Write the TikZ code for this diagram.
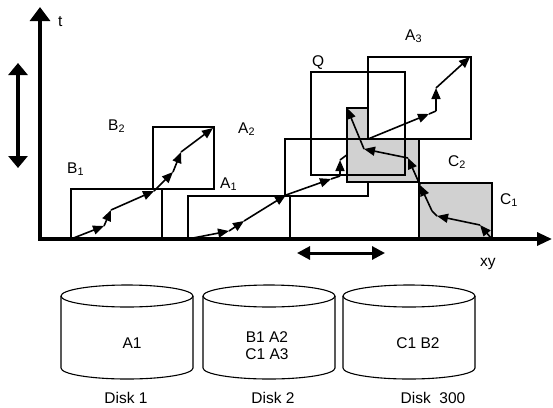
\documentclass[tikz,border=0pt]{standalone}
\usepackage{fontspec}
\setmainfont{Liberation Sans}
\usetikzlibrary{arrows.meta}
\begin{document}
\begin{tikzpicture}[x=1pt,y=-1pt,
    font=\fontsize{15.5}{17}\selectfont,
    mbr/.style={draw,line width=1.5pt},
    shaded/.style={mbr,fill=black!18},
    query/.style={draw,line width=2.8pt},
    traj/.style={line width=1.6pt,-{Triangle[length=11pt,width=9pt]}},
    plain/.style={line width=1.6pt},
    axis/.style={line width=3.2pt},
    lbl/.style={anchor=base west,inner sep=0},
    txt/.style={anchor=base,inner sep=0}]
\useasboundingbox (0,0) rectangle (553,407);
% trajectory points
\coordinate (b0) at (71,239);  \coordinate (b1) at (104,226);
\coordinate (b2) at (111,210); \coordinate (b3) at (154,191);
\coordinate (b4) at (173,172); \coordinate (b5) at (181,152);
\coordinate (b6) at (213,128);
\coordinate (a0) at (188,239); \coordinate (a1) at (229,231);
\coordinate (a2) at (244,221); \coordinate (a3) at (286,195);
\coordinate (a4) at (331,179); \coordinate (a5) at (340,176);
\coordinate (a6) at (340,160); \coordinate (a7) at (368,139);
\coordinate (e1) at (429,114); \coordinate (e2) at (436,111);
\coordinate (e3) at (436,88);  \coordinate (e4) at (470,57);
\coordinate (k0) at (491,238); \coordinate (k1) at (480,225);
\coordinate (k2) at (437,216); \coordinate (k3) at (432,211);
\coordinate (k4) at (420,185); \coordinate (k5) at (408,158);
\coordinate (k6) at (364,149); \coordinate (k7) at (347,108);
% boxes B1, B2, A1
\draw[mbr] (71,189) rectangle (162,239);
\draw[mbr] (153,127) rectangle (214,189);
\draw[mbr] (188,196) rectangle (290,239);
% trajectories B and A
\foreach \p/\q in {b0/b1,b1/b2,b2/b3,b3/b4,b4/b5,b5/b6}
  \draw[traj] (\p) -- (\q);
\foreach \p/\q in {a0/a1,a1/a2,a2/a3,a3/a4,a5/a6,a6/a7}
  \draw[traj] (\p) -- (\q);
\draw[plain] (a4) -- (a5);
% boxes C1, C2, A2, A3
\draw[shaded] (419,183) rectangle (492,239);
\draw[shaded] (347,108) rectangle (419,182);
\draw[mbr] (368,182) -- (368,196) -- (285,196) -- (285,139) -- (368,139);
\draw[mbr,fill=white] (368,57) rectangle (471,139);
% trajectories A3 and C
\foreach \p/\q in {a7/e1,e2/e3,e3/e4}
  \draw[traj] (\p) -- (\q);
\draw[plain] (e1) -- (e2);
\foreach \p/\q in {k0/k1,k1/k2,k3/k4,k4/k5,k5/k6,k6/k7}
  \draw[traj] (\p) -- (\q);
\draw[plain] (k2) -- (k3);
% query Q
\draw[query] (311,72) rectangle (405,175);
% axes
\coordinate (o) at (40,239);
\draw[axis,-{Triangle[length=14pt,width=20pt]}] (40,240.5) -- (40,7);
\draw[axis,-{Triangle[length=15pt,width=13pt]}] (38.5,239) -- (552,239);
\draw[line width=3.5pt,{Triangle[length=12pt,width=19pt]}-{Triangle[length=12pt,width=19pt]}] (18,63) -- (18,168);
\draw[line width=3pt,{Triangle[length=13pt,width=13pt]}-{Triangle[length=13pt,width=13pt]}] (297,253) -- (385,253);
% labels
\node[lbl] (t) at (58,26) {t};
\node[lbl] (xy) at (480,266) {xy};
\node[lbl] (B1) at (67,173) {B\textsubscript{1}};
\node[lbl] (B2) at (108,130) {B\textsubscript{2}};
\node[lbl] (A1) at (220,188) {A\textsubscript{1}};
\node[lbl] (A2) at (238,133) {A\textsubscript{2}};
\node[lbl] (A3) at (405,40) {A\textsubscript{3}};
\node[lbl] (Q) at (312,66) {Q};
\node[lbl] (C1) at (500,204) {C\textsubscript{1}};
\node[lbl] (C2) at (448,166) {C\textsubscript{2}};
% disks
\foreach \cx in {127,269,409} {
  \draw[line width=1.1pt] (\cx,296) ellipse [x radius=66pt, y radius=11pt];
  \draw[line width=1.1pt] ({\cx-66},296) -- ({\cx-66},368)
    arc[start angle=180, end angle=360, x radius=66pt, y radius=11pt] -- ({\cx+66},296);
}
\node[txt] (d1c) at (132,348) {A1};
\node[align=center,inner sep=0] (d2c) at (267,346) {B1 A2\\C1 A3};
\node[txt] (d3c) at (418,348) {C1 B2};
\node[txt] (d1) at (126,403) {Disk 1};
\node[txt] (d2) at (273,403) {Disk 2};
\node[txt] (d3) at (433,403) {Disk\ \ 300};
\end{tikzpicture}
\end{document}
